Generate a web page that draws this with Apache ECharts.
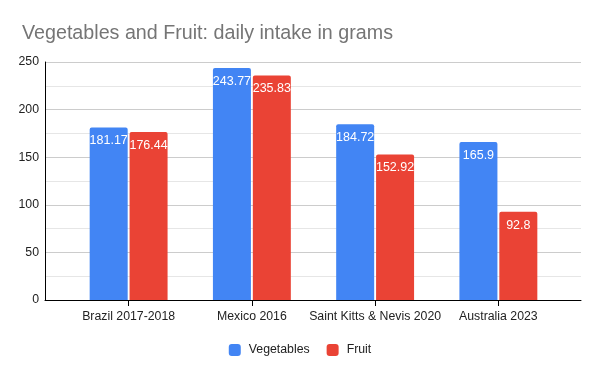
<!DOCTYPE html>
<html>
<head>
<meta charset="utf-8">
<script src="https://cdn.jsdelivr.net/npm/echarts@6/dist/echarts.min.js"></script>
<style>html,body{margin:0;padding:0;background:#fff}#c{width:600px;height:371px}</style>
</head>
<body>
<div id="c"></div>
<script>
const categories = ['Brazil 2017-2018', 'Mexico 2016', 'Saint Kitts & Nevis 2020', 'Australia 2023'];
const vegetables = [181.17, 243.77, 184.72, 165.9];
const fruit = [176.44, 235.83, 152.92, 92.8];
const yTicks = [0, 50, 100, 150, 200, 250];
const titleText = 'Vegetables and Fruit: daily intake in grams';

const FONT = '"Liberation Sans", Arial, sans-serif';
const chart = echarts.init(document.getElementById('c'), null, {renderer: 'canvas'});
const labelOpt = {show: true, position: 'insideTop', distance: 7, color: '#fff', fontSize: 12.5, fontFamily: FONT};
chart.setOption({
  animation: false,
  title: {text: titleText, left: 17, top: 19, textStyle: {fontFamily: FONT, fontSize: 19.7, fontWeight: 'normal', color: '#757575'}},
  legend: {
    data: ['Vegetables', 'Fruit'], left: 'center', top: 339, itemWidth: 12, itemHeight: 12, itemGap: 17,
    icon: 'roundRect',
    textStyle: {fontFamily: FONT, fontSize: 12.3, color: '#222', padding: [0, 0, 0, 3]}
  },
  grid: [
    {left: 45, right: 19, top: 62, bottom: 71},
    {left: 67, right: 40, top: 62, bottom: 71}
  ],
  xAxis: [
    {gridIndex: 0, type: 'category', data: [''], axisLine: {show: true, lineStyle: {color: '#000', width: 1}}, axisTick: {show: false}, axisLabel: {show: false}},
    {gridIndex: 1, type: 'category', data: categories, axisLine: {show: false}, axisTick: {show: true, alignWithLabel: true, length: 6, lineStyle: {color: '#000'}},
     axisLabel: {interval: 0, margin: 11, fontFamily: FONT, fontSize: 12.3, color: '#222'}}
  ],
  yAxis: [
    {gridIndex: 0, type: 'value', min: yTicks[0], max: yTicks[yTicks.length - 1], interval: 50,
     axisLine: {show: true, lineStyle: {color: '#000'}}, axisTick: {show: false},
     axisLabel: {margin: 6, fontFamily: FONT, fontSize: 12.3, color: '#222'},
     splitLine: {show: true, lineStyle: {color: '#cccccc'}},
     minorTick: {show: false, splitNumber: 2},
     minorSplitLine: {show: true, lineStyle: {color: '#e6e6e6'}}},
    {gridIndex: 1, type: 'value', min: 0, max: 250, interval: 50, show: false, splitLine: {show: false}}
  ],
  series: [
    {name: 'Vegetables', type: 'bar', xAxisIndex: 1, yAxisIndex: 1, data: vegetables, barWidth: 38, barGap: '5%',
     itemStyle: {color: '#4285F4', borderRadius: [2, 2, 0, 0]}, label: labelOpt},
    {name: 'Fruit', type: 'bar', xAxisIndex: 1, yAxisIndex: 1, data: fruit, barWidth: 38, barGap: '5%',
     itemStyle: {color: '#EA4335', borderRadius: [2, 2, 0, 0]}, label: labelOpt}
  ]
});
</script>
</body>
</html>
